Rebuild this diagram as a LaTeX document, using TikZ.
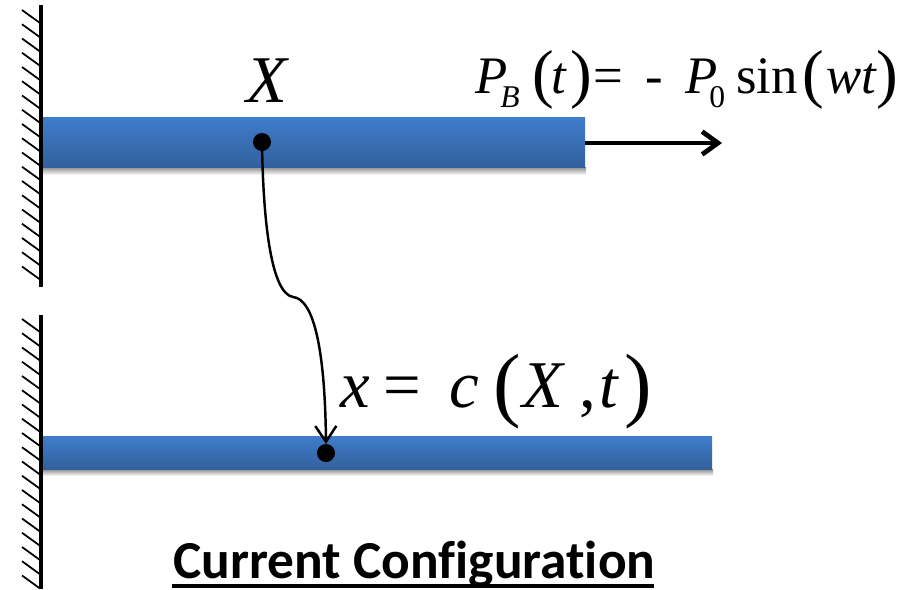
\documentclass[tikz,border=0pt]{standalone}
\usepackage{fontspec}
\setmainfont{Liberation Serif}
\newfontfamily\titlefont[Ligatures=NoCommon]{Carlito}
\usepackage{tikz}
\usetikzlibrary{arrows.meta}
\definecolor{barTop}{HTML}{3F7DCC}
\definecolor{barBottom}{HTML}{32609C}
\tikzset{
    wallline/.style={line width=2.1pt},
    hatchline/.style={line width=1pt},
    barfill/.style={top color=barTop, bottom color=barBottom, draw=none},
    barshadow/.style={top color=black!45, bottom color=white, draw=none},
    pathline/.style={line width=1.4pt},
    mathbase/.style={anchor=base west, inner sep=0pt},
    eqA/.style={mathbase, font=\fontsize{30}{36}\selectfont},
    eqAit/.style={mathbase, font=\fontsize{30}{36}\selectfont\itshape},
    eqAsub/.style={mathbase, font=\fontsize{18}{22}\selectfont},
    eqAparen/.style={mathbase, font=\fontsize{37}{44}\selectfont},
    eqB/.style={mathbase, font=\fontsize{38}{46}\selectfont},
    eqBit/.style={mathbase, font=\fontsize{38}{46}\selectfont\itshape},
    eqBparen/.style={mathbase, font=\fontsize{47}{56}\selectfont}
}
\begin{document}
\begin{tikzpicture}[x=0.02cm, y=-0.02cm]
    \useasboundingbox (0, 0) rectangle (899, 589);

    % Walls
    \draw[wallline] (41, 5) -- (41, 287);
    \draw[wallline] (41, 315) -- (41, 589);
    \foreach \i in {0,...,18} {
        \draw[hatchline] (22, 10+14.25*\i) -- (40, 23+14.25*\i);
    }
    \foreach \i in {0,...,18} {
        \draw[hatchline] (22, 319+14.25*\i) -- (40, 332+14.25*\i);
    }

    % Bars
    \shade[barshadow] (43, 167) rectangle (586, 175);
    \shade[barfill] (43, 117) rectangle (585, 167);
    \shade[barshadow] (43, 469) rectangle (713, 476);
    \shade[barfill] (43, 436) rectangle (712, 469);

    % Points
    \coordinate (Xref) at (262, 142);
    \coordinate (Xcur) at (326, 453);
    \coordinate (Xtip) at (326, 444);
    \coordinate (Pstart) at (585, 143);
    \coordinate (Pend) at (722, 143);
    \coordinate (Bend) at (293, 297);

    % Mapping curve
    \draw[pathline] (Xref) .. controls (263, 215) and (270, 293) .. (Bend);
    \draw[pathline, -{Straight Barb[length=9pt, width=12pt]}] (Bend)
        .. controls (314, 299) and (325, 350) .. (Xtip);
    \fill (Xref) circle (9);
    \fill (Xcur) circle (9);

    % Load arrow
    \draw[line width=2.7pt, -{Straight Barb[length=9pt, width=13pt]}] (Pstart) -- (Pend);

    % Reference point label
    \node[mathbase, font=\fontsize{38}{46}\selectfont\itshape] (labelX) at (246, 102) {X};

    % Load formula
    \node[eqAit] (loadP) at (475, 93) {P};
    \node[eqAsub, font=\fontsize{18}{22}\selectfont\itshape] (loadB) at (500, 107) {B};
    \node[eqAparen] (loadOpen) at (532, 95) {(};
    \node[eqAit] (loadT) at (551, 93) {t};
    \node[eqAparen] (loadClose) at (570, 95) {)};
    \node[eqA] (loadEq) at (593, 93) {=};
    \node[eqA] (loadMinus) at (645, 93) {-};
    \node[eqAit] (loadPzero) at (685, 93) {P};
    \node[eqAsub] (loadZero) at (709, 107) {0};
    \node[eqA] (loadSin) at (736, 93) {sin};
    \node[eqAparen] (loadOpenB) at (802, 95) {(};
    \node[eqAit] (loadWt) at (826, 93) {wt};
    \node[eqAparen] (loadCloseB) at (876, 95) {)};

    % Current position formula
    \node[eqBit] (curX) at (340, 407) {x};
    \node[eqB] (curEq) at (383, 407) {=};
    \node[eqBit] (curC) at (449, 407) {c};
    \node[eqBparen] (curOpen) at (493, 411) {(};
    \node[eqBit] (curBigX) at (522, 407) {X};
    \node[eqB] (curComma) at (579, 407) {,};
    \node[eqBit] (curT) at (599, 407) {t};
    \node[eqBparen] (curClose) at (624, 411) {)};

    % Title
    \node[mathbase, font=\titlefont\bfseries\fontsize{30.4}{36}\selectfont] (title) at (173, 578) {Current Configuration};
    \draw[line width=2.4pt] (172, 586) -- (654, 586);
\end{tikzpicture}
\end{document}
